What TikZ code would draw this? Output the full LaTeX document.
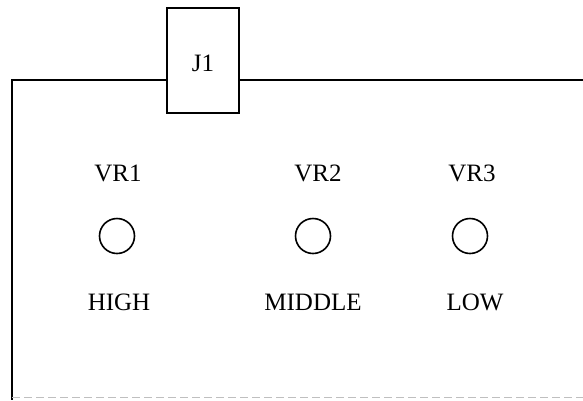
\documentclass[tikz,border=0pt]{standalone}
\usepackage{fontspec}
\setmainfont{Liberation Serif}
\begin{document}
\begin{tikzpicture}[x=1pt,y=-1pt,
  edge/.style={line width=2pt,black},
  knob/.style={circle,draw,line width=1.6pt,minimum size=35pt,inner sep=0pt},
  lbl/.style={font=\fontsize{25}{27}\selectfont,inner sep=0pt,anchor=center},
  conn/.style={draw,line width=2pt,minimum width=72pt,minimum height=105pt,inner sep=0pt}]
\useasboundingbox (0,0) rectangle (583,400);
\node[conn] (J1) at (203,60.5) {};
\node[lbl] (j1t) at (203,63) {J1};
\coordinate (tl) at (12,80);
\coordinate (tr) at (583,80);
\coordinate (bl) at (12,400);
\draw[edge] (J1.west |- tl) -- (tl) -- (bl);
\draw[edge] (J1.east |- tr) -- (tr);
\draw[line width=0.8pt,black!25,dash pattern=on 8pt off 4pt] (12,397) -- (583,397);
\node[lbl] (vr1) at (118,173) {VR1};
\node[lbl] (vr2) at (318,173) {VR2};
\node[lbl] (vr3) at (472,173) {VR3};
\node[knob] (k1) at (117,236) {};
\node[knob] (k2) at (313,236) {};
\node[knob] (k3) at (470,236) {};
\node[lbl] (high) at (119,302) {HIGH};
\node[lbl] (mid) at (313,302) {MIDDLE};
\node[lbl] (low) at (475,302) {LOW};
\end{tikzpicture}
\end{document}
